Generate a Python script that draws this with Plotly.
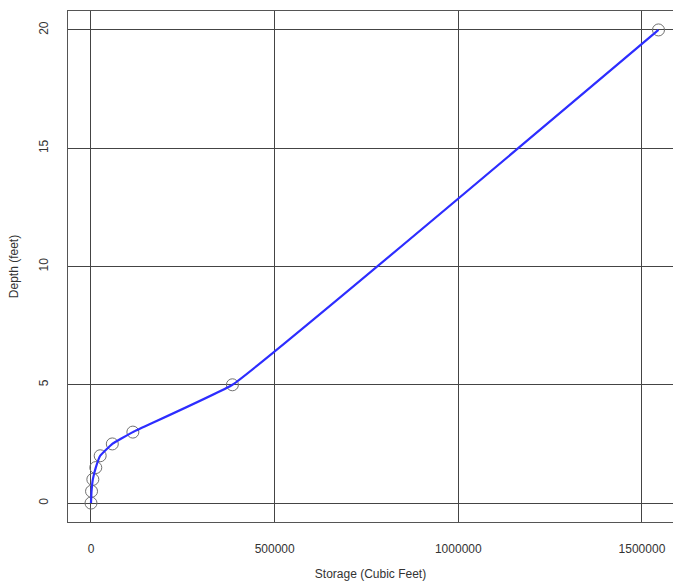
import plotly.graph_objects as go

storage = [0, 1500, 5000, 13000, 25000, 58000, 114000, 385000, 1545000]
depth = [0, 0.5, 1.0, 1.5, 2.0, 2.5, 3.0, 5.0, 20.0]
x_ticks = [0, 500000, 1000000, 1500000]
x_tick_labels = ["0", "500000", "1000000", "1500000"]
y_ticks = [0, 5, 10, 15, 20]
y_tick_labels = ["0", "5", "10", "15", "20"]

fig = go.Figure()
fig.add_trace(go.Scatter(
    x=storage, y=depth, mode="markers",
    marker=dict(symbol="circle-open", size=12, color="#707070", line=dict(width=1)),
    showlegend=False, hoverinfo="skip"))
fig.add_trace(go.Scatter(
    x=storage, y=depth, mode="lines",
    line=dict(color="rgb(45,45,255)", width=2.2, shape="spline", smoothing=0.25),
    showlegend=False))

font = dict(family="Liberation Sans, Arial, sans-serif", size=12, color="#333333")
fig.update_layout(
    width=673, height=587,
    margin=dict(l=68, r=0, t=11, b=65),
    paper_bgcolor="white", plot_bgcolor="white",
    font=font,
    xaxis=dict(
        range=[-62600, 1584500], tickvals=x_ticks, ticktext=x_tick_labels,
        showgrid=True, gridcolor="#444444", gridwidth=1, zeroline=False,
        showline=True, linecolor="#555555", linewidth=1, mirror=True,
        ticks="", ticklabelstandoff=16,
        title=dict(text="Storage (Cubic Feet)", standoff=14, font=font),
    ),
    yaxis=dict(
        range=[-0.8, 20.8], tickvals=y_ticks, ticktext=y_tick_labels,
        showgrid=True, gridcolor="#444444", gridwidth=1, zeroline=False,
        showline=True, linecolor="#555555", linewidth=1,
        ticks="", tickangle=-90, ticklabelstandoff=14,
        title=dict(text="Depth (feet)", standoff=16, font=font),
    ),
)
fig.write_html("out.html")
